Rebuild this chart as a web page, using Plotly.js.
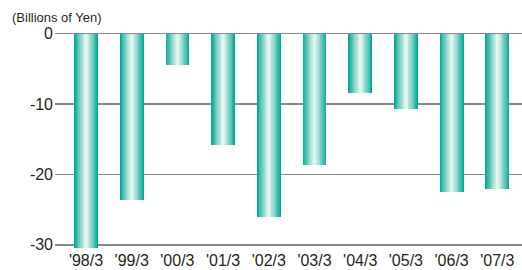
<!DOCTYPE html>
<html>
<head>
<meta charset="utf-8">
<script src="https://cdn.plot.ly/plotly-3.0.1.min.js"></script>
<style>html,body{margin:0;padding:0;background:#fff;}#chart{width:522px;height:270px;}</style>
</head>
<body>
<div id="chart"></div>
<script>
// Data
const categories = ["'98/3", "'99/3", "'00/3", "'01/3", "'02/3", "'03/3", "'04/3", "'05/3", "'06/3", "'07/3"];
const values = [-30.4, -23.6, -4.4, -15.8, -26.0, -18.6, -8.4, -10.7, -22.5, -22.1];
const yTickVals = [0, -10, -20, -30];
const yTickText = ["0", "-10", "-20", "-30"];
const unitLabel = "(Billions of Yen)";

// Gradient bars simulated by overlaid layers
const N = 14;
const baseWidth = 0.52;
const dark = [0, 168, 150];
const light = [232, 246, 243];
const traces = [];
for (let i = 0; i < N; i++) {
  const f = i / (N - 1);
  const t = Math.pow(f, 0.9);
  const c = dark.map((d, k) => Math.round(d + (light[k] - d) * t));
  const w = baseWidth * (1 - f * 0.93);
  traces.push({
    type: 'bar',
    x: categories,
    y: values,
    width: categories.map(() => w),
    marker: {color: 'rgb(' + c.join(',') + ')', line: {width: 0}},
    hoverinfo: 'skip',
    showlegend: false
  });
}

const layout = {
  width: 522,
  height: 270,
  margin: {l: 55, r: 0, t: 30, b: 21},
  paper_bgcolor: '#ffffff',
  plot_bgcolor: '#ffffff',
  barmode: 'overlay',
  bargap: 0,
  font: {family: 'Liberation Sans, Arial, sans-serif', color: '#231f20', size: 16},
  annotations: [{
    text: unitLabel,
    xref: 'paper', yref: 'paper',
    x: -45 / 467, xanchor: 'left',
    y: 1 + 12.5 / 219, yanchor: 'middle',
    showarrow: false,
    font: {size: 13, color: '#231f20', family: 'Liberation Sans, Arial, sans-serif'}
  }],
  xaxis: {
    type: 'category',
    range: [-0.678, 9.54],
    showgrid: false,
    zeroline: false,
    showline: false,
    ticks: '',
    tickfont: {size: 16},
    fixedrange: true
  },
  yaxis: {
    range: [-30.6, 0.5],
    tickvals: yTickVals,
    ticktext: yTickText,
    showgrid: true,
    gridcolor: '#8a8a8a',
    gridwidth: 1.5,
    zeroline: false,
    showline: false,
    ticks: '',
    ticklabelstandoff: 1,
    tickfont: {size: 16},
    fixedrange: true
  }
};

Plotly.newPlot('chart', traces, layout, {displayModeBar: false, staticPlot: true});
</script>
</body>
</html>
